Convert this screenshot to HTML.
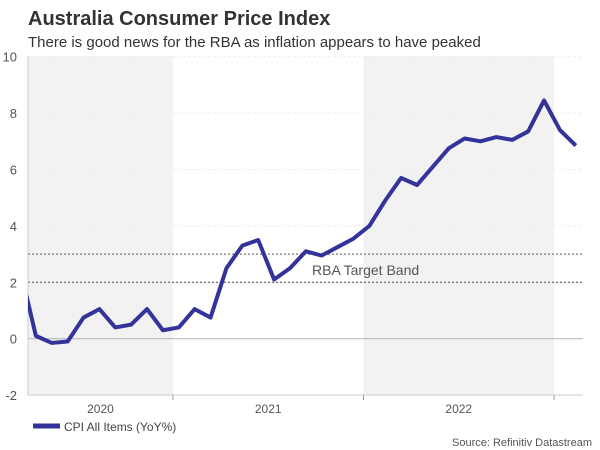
<!DOCTYPE html>
<html><head><meta charset="utf-8"><style>
body{margin:0;background:#fff;font-family:"Liberation Sans",Arial,sans-serif;}
svg{display:block}
</style></head><body>
<svg id="c" width="600" height="450" xmlns="http://www.w3.org/2000/svg">
<text x="28" y="25" font-size="20" font-weight="bold" fill="#333">Australia Consumer Price Index</text>
<text x="28" y="47" font-size="15" fill="#333">There is good news for the RBA as inflation appears to have peaked</text>
<defs><clipPath id="clip"><rect x="28" y="50" width="556" height="346"/></clipPath></defs>
<g id="bands"></g><g id="grid"></g><g id="ticks"></g>
<g id="series" clip-path="url(#clip)"></g>
<text x="312" y="275" font-size="14" fill="#555">RBA Target Band</text>
<line x1="33" y1="426" x2="60" y2="426" stroke="#33339a" stroke-width="5"/>
<text x="64" y="431" font-size="12" fill="#444">CPI All Items (YoY%)</text>
<text x="592" y="446" font-size="11" fill="#555" text-anchor="end">Source: Refinitiv Datastream</text>
</svg>
<script>
const yTicks=[-2,0,2,4,6,8,10];
const values=[2.5,0.1,-0.15,-0.1,0.75,1.05,0.4,0.5,1.05,0.3,0.4,1.05,0.75,2.5,3.3,3.5,2.1,2.5,3.1,2.95,3.25,3.55,4.0,4.9,5.7,5.45,6.1,6.75,7.1,7.0,7.15,7.05,7.35,8.45,7.4,6.85];
const years=["2020","2021","2022"];
const yearStart=[-2,10,22];
const yearEnd=[10,22,34];
const band=[2,3];
const NS="http://www.w3.org/2000/svg";
const X=i=>20+i*15.88;
const Y=v=>338.7-v*28.2;
function mk(tag,attrs,parent){const e=document.createElementNS(NS,tag);for(const k in attrs)e.setAttribute(k,attrs[k]);document.getElementById(parent).appendChild(e);return e;}
years.forEach((y,i)=>{
  const xs=Math.max(28,X(yearStart[i]-0.37)), xe=Math.min(583,X(yearEnd[i]-0.37));
  if(i!==1){const r=mk('rect',{x:xs,y:56,width:xe-xs,height:339,fill:'#f2f2f2'},'bands');
  
  }
  const t=mk('text',{x:(xs+xe)/2,y:413,'font-size':12,fill:'#555','text-anchor':'middle'},'ticks');t.textContent=y;
  
  
  if(i<3){const l=mk('line',{x1:xe,x2:xe,y1:395,y2:400,stroke:'#999'},'ticks');
  
  }
});
yTicks.forEach(v=>{
  const g=mk('line',{x1:28,x2:583,y1:Y(v),y2:Y(v),stroke:v===0?'#bbb':'#eee','stroke-width':v===0?1.2:1,'stroke-dasharray':v===0?'none':'3,2'},'grid');
  
  
  const t=mk('text',{x:17,y:Y(v)+5,'font-size':13,fill:'#555','text-anchor':'end'},'ticks');t.textContent=v;
  
  
});
band.forEach(v=>{
  const l=mk('line',{x1:28,x2:583,y1:Y(v),y2:Y(v),stroke:'#777','stroke-width':1.3,'stroke-dasharray':'2,2'},'grid');
  
  
});
const ax=mk('line',{x1:28,x2:583,y1:395,y2:395,stroke:'#ccc'},'grid');


const ay=mk('line',{x1:28,x2:28,y1:56,y2:395,stroke:'#ccc'},'grid');


const p=mk('polyline',{points:values.map((v,i)=>X(i)+','+Y(v)).join(' '),fill:'none',stroke:'#33339a','stroke-width':4,'stroke-linejoin':'round'},'series');


</script>
</body></html>
